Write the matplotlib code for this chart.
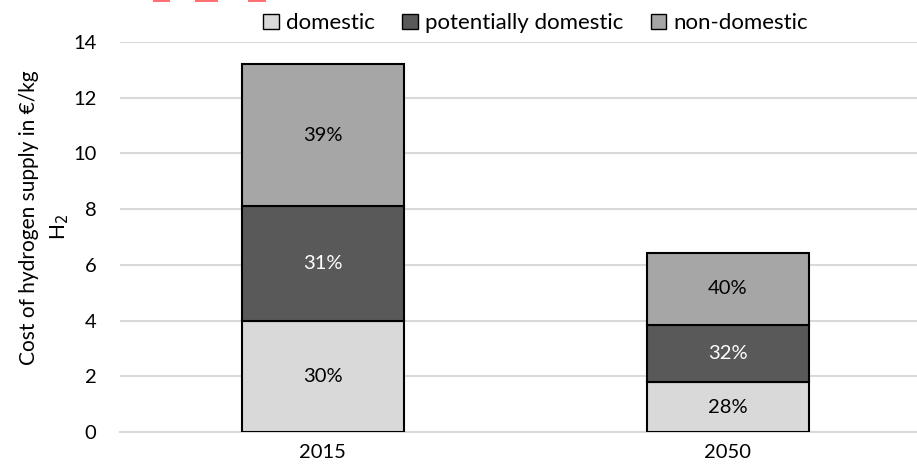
import numpy as np
import matplotlib.pyplot as plt
import matplotlib.patches as mpatches

plt.rcParams['font.family'] = ['Lato', 'DejaVu Sans']

years        = ["2015", "2050"]
series_names = ["domestic", "potentially domestic", "non-domestic"]
domestic     = [4.0, 1.78]
pot_domestic = [4.1, 2.06]
non_domestic = [5.1, 2.59]
pct_labels   = [["30%", "28%"], ["31%", "32%"], ["39%", "40%"]]

COLORS     = ["#d9d9d9", "#595959", "#a6a6a6"]
TEXT_COLS  = ["black", "white", "black"]
GRID_COLOR = "#d9d9d9"

fig = plt.figure(figsize=(9.17, 4.71), dpi=100)
ax = fig.add_axes([120 / 917, 39 / 471, 810 / 917, 390 / 471])

x = np.arange(len(years))
bottom = np.zeros(len(years))
for vals, col, tcol, labs in zip([domestic, pot_domestic, non_domestic],
                                 COLORS, TEXT_COLS, pct_labels):
    vals = np.array(vals)
    ax.bar(x, vals, width=0.4, bottom=bottom, color=col,
           edgecolor="black", linewidth=1.5, zorder=3)
    for xi, b, v, lab in zip(x, bottom, vals, labs):
        ax.text(xi, b + v / 2, lab, ha="center", va="center",
                fontsize=14.5, color=tcol, zorder=4)
    bottom += vals

ax.set_xlim(-0.5, 1.5)
ax.set_ylim(0, 14)
ax.set_yticks(range(0, 15, 2))
ax.set_xticks(x)
ax.set_xticklabels(years)
ax.tick_params(axis="both", length=0, labelsize=14.5, colors="black")
ax.tick_params(axis="y", pad=17)
ax.tick_params(axis="x", pad=9)
ax.grid(axis="y", color=GRID_COLOR, linewidth=1.5, zorder=0)
for s in ["left", "right", "top"]:
    ax.spines[s].set_visible(False)
ax.spines["bottom"].set_color(GRID_COLOR)
ax.spines["bottom"].set_linewidth(1.5)

# y label in two pieces (second line is the wrapped "H2")
ax.set_ylabel("Cost of hydrogen supply in €/kg", fontsize=15)
ax.yaxis.set_label_coords(-0.1, 0.549)
ax.text(-0.074, 0.526, "H$_2$", transform=ax.transAxes, rotation=90,
        ha="center", va="center", fontsize=15)

handles = [mpatches.Patch(facecolor=c, edgecolor="black", linewidth=1.0, label=n)
           for c, n in zip(COLORS, series_names)]
fig.legend(handles=handles, loc="center", bbox_to_anchor=(0.584, 0.951),
           ncol=3, frameon=False, fontsize=16, handlelength=0.7,
           handleheight=0.7, handletextpad=0.3, columnspacing=1.25)

# small red marks cut off at the top edge
for x0, x1 in [(153, 170), (195, 218), (248, 266)]:
    fig.patches.append(mpatches.Rectangle((x0 / 917, 1 - 2 / 471), (x1 - x0) / 917,
                                          2 / 471, transform=fig.transFigure,
                                          color="#ff7070", linewidth=0))

plt.savefig("out.png", dpi=100)
